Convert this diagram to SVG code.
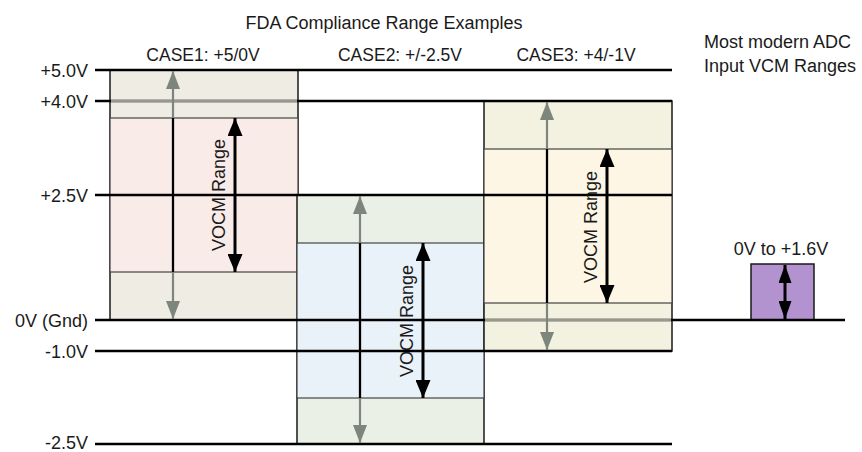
<svg xmlns="http://www.w3.org/2000/svg" width="862" height="452" viewBox="0 0 862 452">
<style>
text{font-family:"Liberation Sans",Arial,sans-serif;font-size:18px;fill:#1a1a1a}
.lbl{text-anchor:end}
.mid{text-anchor:middle}
.outer{stroke:#1a1a1a;stroke-width:1.5}
.inner{stroke:#444;stroke-width:1.2}
.lvl{stroke:#000;stroke-width:2.6}
.fade{stroke:#979890;stroke-width:2.2}
.ga{stroke:#7e857c;stroke-width:2.2;fill:none;marker-start:url(#gh);marker-end:url(#gh)}
.ba{stroke:#000;stroke-width:3;fill:none;marker-start:url(#bh);marker-end:url(#bh)}
.blk{stroke:#000;stroke-width:2.2}
</style>
<defs>
<marker id="gh" markerUnits="userSpaceOnUse" viewBox="0 0 18 14" refX="18" refY="7" markerWidth="18" markerHeight="14" orient="auto-start-reverse"><path d="M0,0 L18,7 L0,14 z" fill="#7e857c"/></marker>
<marker id="bh" markerUnits="userSpaceOnUse" viewBox="0 0 18 15" refX="18" refY="7.5" markerWidth="18" markerHeight="15" orient="auto-start-reverse"><path d="M0,0 L18,7.5 L0,15 z" fill="#000"/></marker>
<marker id="ph" markerUnits="userSpaceOnUse" viewBox="0 0 18 13" refX="18" refY="6.5" markerWidth="18" markerHeight="13" orient="auto-start-reverse"><path d="M0,0 L18,6.5 L0,13 z" fill="#000"/></marker>
</defs>
<rect width="862" height="452" fill="#fff"/>

<text class="mid" x="384" y="29">FDA Compliance Range Examples</text>

<g id="case1">
<rect class="outer" x="110" y="70" width="188" height="250" fill="#efece3"/>
<rect class="inner" x="110" y="118" width="188" height="154" fill="#f8ebe8"/>
<text class="mid" x="203" y="61" style="font-size:17.5px">CASE1: +5/0V</text>
</g>
<g id="case2">
<rect class="outer" x="297" y="195" width="187" height="249" fill="#eaf0e5"/>
<rect class="inner" x="297" y="243" width="187" height="155" fill="#e9f1f9"/>
<text class="mid" x="400" y="61" style="font-size:17.5px">CASE2: +/-2.5V</text>
</g>
<g id="case3">
<rect class="outer" x="484" y="101" width="188" height="250" fill="#f3f1df"/>
<rect class="inner" x="484" y="149" width="188" height="154" fill="#fdf6e4"/>
<text class="mid" x="576" y="61" style="font-size:17.5px">CASE3: +4/-1V</text>
</g>
<g id="adc">
<text x="704" y="48">Most modern ADC</text>
<text x="704" y="72">Input VCM Ranges</text>
<rect class="outer" x="751" y="264" width="63" height="56" fill="#b393cf"/>
<text class="mid" x="781" y="255">0V to +1.6V</text>
</g>

<g id="levels">
<line class="lvl" x1="95" y1="70" x2="672" y2="70"/>
<line class="lvl" x1="95" y1="101" x2="672" y2="101"/>
<line class="lvl" x1="95" y1="195" x2="672" y2="195"/>
<line class="lvl" x1="95" y1="320" x2="845" y2="320"/>
<line class="lvl" x1="95" y1="351" x2="672" y2="351"/>
<line class="lvl" x1="95" y1="444" x2="672" y2="444"/>
<line class="fade" x1="111" y1="101" x2="297" y2="101"/>
<line class="fade" x1="485" y1="320" x2="671" y2="320"/>
<text class="lbl" x="88" y="77">+5.0V</text>
<text class="lbl" x="88" y="108">+4.0V</text>
<text class="lbl" x="88" y="202">+2.5V</text>
<text class="lbl" x="88" y="327">0V (Gnd)</text>
<text class="lbl" x="88" y="358">-1.0V</text>
<text class="lbl" x="88" y="449">-2.5V</text>
</g>

<g id="connectors">
<line class="ga" x1="173" y1="71" x2="173" y2="319"/>
<line class="blk" x1="173" y1="118" x2="173" y2="272"/>
<line class="ba" x1="235" y1="118" x2="235" y2="272"/>
<line class="ga" x1="360" y1="196" x2="360" y2="443"/>
<line class="blk" x1="360" y1="243" x2="360" y2="398"/>
<line class="ba" x1="423" y1="243" x2="423" y2="398"/>
<line class="ga" x1="547" y1="102" x2="547" y2="350"/>
<line class="blk" x1="547" y1="149" x2="547" y2="303"/>
<line class="ba" x1="607" y1="149" x2="607" y2="303"/>
<line class="ba" x1="785" y1="265" x2="785" y2="319" style="marker-start:url(#ph);marker-end:url(#ph)"/>
</g>

<g id="vocm-labels">
<text class="mid" transform="translate(225,195) rotate(-90)">VOCM Range</text>
<text class="mid" transform="translate(413,321) rotate(-90)">VOCM Range</text>
<text class="mid" transform="translate(597,227) rotate(-90)">VOCM Range</text>
</g>
</svg>
